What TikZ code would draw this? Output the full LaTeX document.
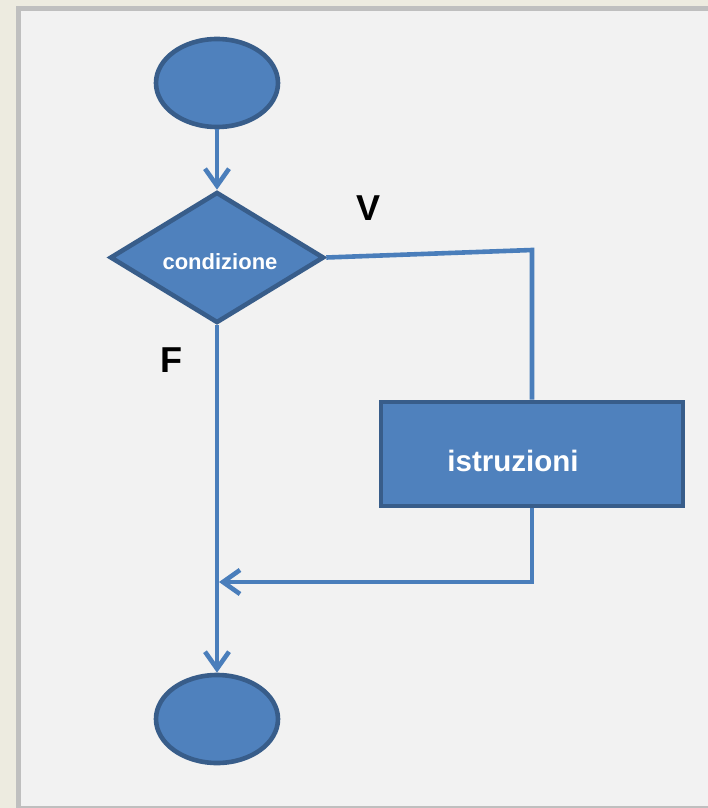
\documentclass[tikz,border=0pt]{standalone}
\usepackage{fontspec}
\setmainfont{Liberation Sans}
\usetikzlibrary{shapes.geometric,arrows.meta}
\definecolor{pagebg}{HTML}{EDEBE0}
\definecolor{frame}{HTML}{BFBFBF}
\definecolor{panel}{HTML}{F2F2F2}
\definecolor{shapefill}{HTML}{4F81BD}
\definecolor{shapeline}{HTML}{385D8A}
\definecolor{flowline}{HTML}{4A7EBB}
\tikzset{
  blockshape/.style={fill=shapefill, draw=shapeline, line width=4.6pt, inner sep=0pt,
    text=white, font=\bfseries},
  terminal/.style={blockshape, ellipse, minimum width=122pt, minimum height=88pt},
  decision/.style={blockshape, diamond, aspect=1.63, minimum width=214pt, minimum height=131pt,
    font=\bfseries\fontsize{22}{25}\selectfont},
  process/.style={blockshape, rectangle, minimum width=302pt, minimum height=104pt,
    font=\bfseries\fontsize{29.5}{33}\selectfont},
  flow/.style={draw=flowline, line width=4.6pt},
  tip/.style={-{Straight Barb[length=17pt, width=24pt, line width=4.6pt]}},
  branch/.style={font=\bfseries\fontsize{36}{40}\selectfont, text=black, inner sep=0pt}
}
\begin{document}
\begin{tikzpicture}[x=1pt, y=-1pt]
  % page, frame and panel
  \fill[pagebg] (0,0) rectangle (708,808);
  \fill[frame] (16,6) rectangle (708,808);
  \fill[panel] (21,11) rectangle (708,806);
  \useasboundingbox (0,0) rectangle (708,808);

  % blocks
  \node[terminal] (start) at (217,83) {};
  \node[decision] (cond) at (217,257.5) {\raisebox{-4pt}[\height][\depth]{\hspace*{6pt}condizione}};
  \node[process] (body) at (532,454) {\raisebox{-7pt}[\height][\depth]{\hspace*{-38pt}istruzioni}};
  \node[terminal] (stop) at (217,719) {};

  % branch labels
  \node[branch] (vlabel) at (369,208) {V};
  \node[branch] (flabel) at (171,360) {F};

  % corners of the true branch
  \coordinate (vcorner) at (532,250);
  \coordinate (rcorner) at (532,582);
  \coordinate (merge) at (217,582);

  % connectors
  \draw[flow, tip] (start) -- (cond);
  \draw[flow] (cond.east) -- (vcorner) -- (body.north);
  \draw[flow, tip, shorten >=2pt] (body.south) -- (rcorner) -- (merge);
  \draw[flow, tip] (cond.south) -- (stop.north);
\end{tikzpicture}
\end{document}
